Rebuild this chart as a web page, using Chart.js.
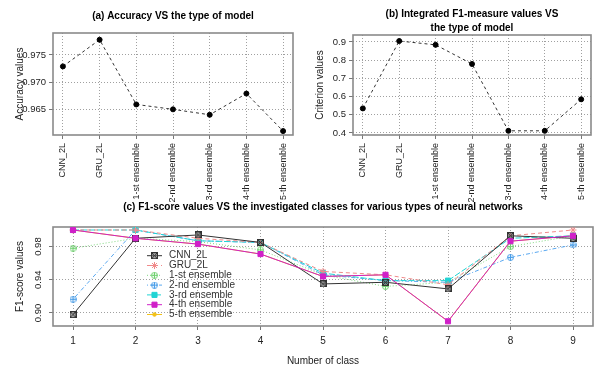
<!DOCTYPE html>
<html>
<head>
<meta charset="utf-8">
<script src="https://cdn.jsdelivr.net/npm/chart.js@4.4.0/dist/chart.umd.min.js"></script>
<style>
  body { margin: 0; background: #fff; }
  .panel { position: absolute; }
</style>
</head>
<body>
<div class="panel" style="left:0;top:0;width:300px;height:205px"><canvas id="accChart"></canvas></div>
<div class="panel" style="left:300px;top:0;width:298px;height:205px"><canvas id="f1Chart"></canvas></div>
<div class="panel" style="left:0;top:195px;width:598px;height:172px"><canvas id="classChart"></canvas></div>
<script>
// top panels
const modelNames = ['CNN_2L', 'GRU_2L', '1-st ensemble', '2-nd ensemble', '3-rd ensemble', '4-th ensemble', '5-th ensemble'];
const accuracyValues = [0.9729, 0.9778, 0.9659, 0.9650, 0.9640, 0.9679, 0.9610];
const accuracyTicks = [0.965, 0.970, 0.975];
const criterionValues = [0.535, 0.905, 0.884, 0.779, 0.412, 0.412, 0.585];
const criterionTicks = [0.4, 0.5, 0.6, 0.7, 0.8, 0.9];

// bottom panel
const classNumbers = [1, 2, 3, 4, 5, 6, 7, 8, 9];
const cnn2L     = [0.898, 0.990, 0.994, 0.985, 0.935, 0.937, 0.929, 0.993, 0.990];
const gru2L     = [1.000, 1.000, 0.990, 0.985, 0.950, 0.946, 0.934, 0.993, 1.000];
const ensemble1 = [0.978, 0.990, 0.986, 0.976, 0.946, 0.932, 0.937, 0.980, 0.993];
const ensemble2 = [0.9165, 1.000, 0.987, 0.985, 0.946, 0.939, 0.937, 0.967, 0.982];
const ensemble3 = [1.000, 1.000, 0.987, 0.985, 0.948, 0.939, 0.939, 0.990, 0.993];
const ensemble4 = [1.000, 0.990, 0.983, 0.971, 0.944, 0.946, 0.890, 0.9865, 0.993];
const ensemble5 = [1.000, 0.990, 0.983, 0.971, 0.944, 0.946, 0.890, 0.9865, 0.993];
const f1Ticks = [0.90, 0.92, 0.94, 0.96, 0.98, 1.00];
const f1TickLabels = ['0.90', '', '0.94', '', '0.98', ''];

Chart.defaults.font.family = "'Liberation Sans', Arial, sans-serif";
Chart.defaults.font.size = 10;
Chart.defaults.color = '#222';

// R-like box around the plot region
const plotBox = {
    id: 'plotBox',
    beforeDatasetsDraw(chart) {
        const a = chart.chartArea, ctx = chart.ctx;
        ctx.save();
        ctx.strokeStyle = '#8a8a8a';
        ctx.lineWidth = 1.6;
        ctx.strokeRect(a.left, a.top, a.right - a.left, a.bottom - a.top);
        ctx.restore();
    }
};

// legend drawn inside the plot, no frame
const insideLegend = {
    id: 'insideLegend',
    afterDraw(chart, args, opts) {
        const ctx = chart.ctx;
        chart.data.datasets.forEach((ds, i) => {
            const y = opts.top + i * opts.rowHeight;
            ctx.save();
            ctx.strokeStyle = ds.borderColor;
            ctx.lineWidth = ds.borderWidth;
            ctx.setLineDash(ds.borderDash || []);
            ctx.beginPath();
            ctx.moveTo(opts.left, y);
            ctx.lineTo(opts.left + opts.lineLen, y);
            ctx.stroke();
            ctx.setLineDash([]);
            ctx.fillStyle = ds.pointBackgroundColor;
            ctx.strokeStyle = ds.pointBorderColor;
            ctx.lineWidth = 1;
            Chart.helpers.drawPoint(ctx, {pointStyle: ds.pointStyle, radius: ds.pointRadius, rotation: 0, borderWidth: 1},
                opts.left + opts.lineLen / 2, y);
            ctx.fillStyle = '#333';
            ctx.font = "10px 'Liberation Sans', Arial, sans-serif";
            ctx.textBaseline = 'middle';
            ctx.fillText(ds.label, opts.left + opts.lineLen + opts.gap, y);
            ctx.restore();
        });
    }
};

function marker(kind, color) {
    const c = document.createElement('canvas');
    c.width = 7; c.height = 7;
    const g = c.getContext('2d');
    g.strokeStyle = color;
    g.lineWidth = 1;
    if (kind === 'squareX') {
        g.fillStyle = 'rgba(110,110,110,0.6)';
        g.fillRect(1, 1, 5, 5);
        g.strokeRect(0.5, 0.5, 6, 6);
        g.beginPath();
        g.moveTo(0.5, 0.5); g.lineTo(6.5, 6.5);
        g.moveTo(6.5, 0.5); g.lineTo(0.5, 6.5);
        g.stroke();
    } else {
        g.beginPath();
        g.arc(3.5, 3.5, 3, 0, Math.PI * 2);
        g.stroke();
        g.beginPath();
        g.moveTo(0.5, 3.5); g.lineTo(6.5, 3.5);
        g.moveTo(3.5, 0.5); g.lineTo(3.5, 6.5);
        g.stroke();
    }
    return c;
}

const gridStyle = {color: '#a0a0a0', lineWidth: 1, tickLength: 4, tickColor: '#777', tickWidth: 1};

function modelChart(id, values, yTicks, yMin, yMax, title, titlePad, yTitle, digits) {
    return new Chart(document.getElementById(id), {
        type: 'line',
        data: {
            datasets: [{
                data: values.map((v, i) => ({x: i, y: v})),
                borderColor: '#333',
                borderWidth: 1,
                borderDash: [3, 3],
                pointStyle: 'circle',
                pointRadius: 2.5,
                pointBackgroundColor: '#000',
                pointBorderColor: '#000',
                tension: 0
            }]
        },
        options: {
            responsive: true,
            maintainAspectRatio: false,
            animation: false,
            layout: {padding: {left: 0, right: 300 - 293, top: 0, bottom: 0}},
            plugins: {
                legend: {display: false},
                tooltip: {enabled: false},
                title: {
                    display: true,
                    text: title,
                    fullSize: false,
                    color: '#000',
                    font: {size: 10, weight: 'bold', lineHeight: 1.4},
                    padding: titlePad
                }
            },
            scales: {
                x: {
                    type: 'linear',
                    min: -0.27,
                    max: modelNames.length - 1 + 0.27,
                    afterBuildTicks: s => { s.ticks = modelNames.map((_, i) => ({value: i})); },
                    afterFit: s => { s.height = 70; },
                    ticks: {
                        autoSkip: false,
                        minRotation: 90,
                        maxRotation: 90,
                        padding: 4,
                        font: {size: 9},
                        callback: v => modelNames[v]
                    },
                    grid: gridStyle,
                    border: {display: false, dash: [1, 2]}
                },
                y: {
                    min: yMin,
                    max: yMax,
                    afterBuildTicks: s => { s.ticks = yTicks.map(v => ({value: v})); },
                    afterFit: s => { s.width = 53; },
                    ticks: {padding: 3, font: {size: 9.5}, callback: v => v.toFixed(digits)},
                    title: {display: true, text: yTitle, font: {size: 10}, padding: {top: 14, bottom: 0}},
                    grid: gridStyle,
                    border: {display: false, dash: [1, 2]}
                }
            }
        },
        plugins: [plotBox]
    });
}

modelChart('accChart', accuracyValues, accuracyTicks, 0.96028, 0.97904,
    '(a) Accuracy VS the type of model', {top: 9, bottom: 10}, 'Accuracy values', 3);
modelChart('f1Chart', criterionValues, criterionTicks, 0.389, 0.938,
    ['(b) Integrated F1-measure values VS', 'the type of model'], {top: 7, bottom: 0}, 'Criterion values', 1);

const classSeries = [
    {label: 'CNN_2L', values: cnn2L, color: '#333333', dash: [], style: marker('squareX', '#333'), radius: 3.5, fill: '#333', order: 2},
    {label: 'GRU_2L', values: gru2L, color: '#f08a8a', dash: [4, 3], style: 'star', radius: 3.5, fill: '#f08a8a', order: 3},
    {label: '1-st ensemble', values: ensemble1, color: '#7fd87f', dash: [1, 2], style: marker('circlePlus', '#6fd06f'), radius: 3.5, fill: '#7fd87f', order: 6},
    {label: '2-nd ensemble', values: ensemble2, color: '#5aa8f0', dash: [1, 2, 4, 2], style: marker('circlePlus', '#4a9ee8'), radius: 3.5, fill: '#5aa8f0', order: 5},
    {label: '3-rd ensemble', values: ensemble3, color: '#20d4d4', dash: [6, 2], style: 'rect', radius: 3.6, fill: '#20d4d4', order: 4},
    {label: '4-th ensemble', values: ensemble4, color: '#d020c8', dash: [], style: 'rect', radius: 3.6, fill: '#d020c8', order: 1},
    {label: '5-th ensemble', values: ensemble5, color: '#f2c21a', dash: [], style: 'circle', radius: 1.8, fill: '#f2c21a', order: 7}
];

new Chart(document.getElementById('classChart'), {
    type: 'line',
    data: {
        datasets: classSeries.map(s => ({
            label: s.label,
            data: s.values.map((v, i) => ({x: classNumbers[i], y: v})),
            borderColor: s.color,
            borderWidth: 1,
            borderDash: s.dash,
            pointStyle: s.style,
            pointRadius: s.radius,
            pointBackgroundColor: s.fill,
            pointBorderColor: s.color,
            pointBorderWidth: 1,
            order: s.order,
            tension: 0
        }))
    },
    options: {
        responsive: true,
        maintainAspectRatio: false,
        animation: false,
        layout: {padding: {left: 0, right: 598 - 593, top: 0, bottom: 0}},
        plugins: {
            legend: {display: false},
            tooltip: {enabled: false},
            title: {
                display: true,
                text: '(c) F1-score values VS the investigated classes for various types of neural networks',
                fullSize: false,
                color: '#000',
                font: {size: 10, weight: 'bold', lineHeight: 1.2},
                padding: {top: 6, bottom: 14}
            },
            insideLegend: {left: 147, top: 60.7, rowHeight: 9.8, lineLen: 15, gap: 7}
        },
        scales: {
            x: {
                type: 'linear',
                min: 0.68,
                max: 9.32,
                afterBuildTicks: s => { s.ticks = classNumbers.map(v => ({value: v})); },
                afterFit: s => { s.height = 41; },
                ticks: {padding: 5, callback: v => String(v)},
                title: {display: true, text: 'Number of class', font: {size: 10}, padding: {top: 0, bottom: 0}},
                grid: gridStyle,
                border: {display: false, dash: [1, 2]}
            },
            y: {
                min: 0.8843,
                max: 1.0036,
                afterBuildTicks: s => { s.ticks = f1Ticks.map(v => ({value: v})); },
                afterFit: s => { s.width = 53; },
                ticks: {
                    minRotation: 90,
                    maxRotation: 90,
                    crossAlign: 'center',
                    padding: 1,
                    font: {size: 9.5},
                    callback: (v, i) => f1TickLabels[i]
                },
                title: {display: true, text: 'F1-score values', font: {size: 10}, padding: {top: 14, bottom: 0}},
                grid: gridStyle,
                border: {display: false, dash: [1, 2]}
            }
        }
    },
    plugins: [plotBox, insideLegend]
});
</script>
</body>
</html>
